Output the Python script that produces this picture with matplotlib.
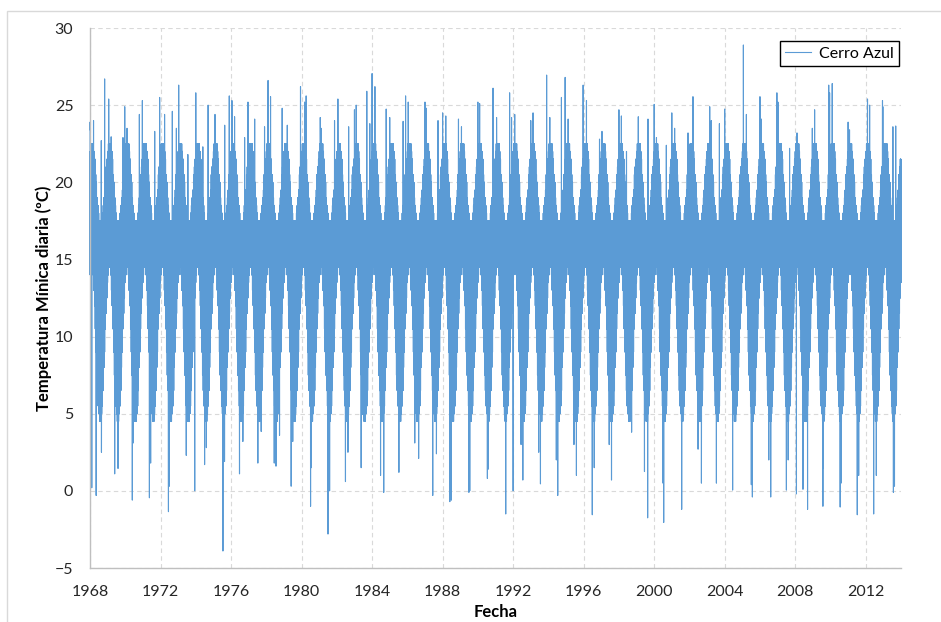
import matplotlib
matplotlib.use("Agg")
import matplotlib.pyplot as plt
from matplotlib.patches import Rectangle

# Cerro Azul - temperatura minima diaria 1968-2014
years = list(range(1968, 2014))

# typical daily band for each half month (Jan..Dec)
band_hi = [22.0, 22.5, 22.5, 22.5, 22.5, 22.0, 21.5, 20.5, 20.0, 19.0, 18.5, 18.0,
           17.5, 17.5, 17.5, 17.5, 17.5, 18.0, 18.5, 19.0, 19.5, 20.5, 21.0, 21.5]
band_lo = [14.0, 14.5, 14.5, 14.5, 14.0, 13.0, 12.0, 10.5, 9.0, 7.5, 6.5, 5.5,
           5.0, 4.5, 4.5, 5.0, 5.5, 6.5, 8.0, 9.0, 10.5, 11.5, 12.5, 13.5]

# highest spikes (decimal year, degC)
peak_t = [1968.00, 1968.20, 1968.83, 1969.06, 1969.97, 1970.80, 1970.97, 1971.95, 1972.23,
          1973.03, 1974.00, 1974.70, 1975.09, 1975.90, 1976.05, 1976.96, 1978.10, 1978.90,
          1979.94, 1980.26, 1981.06, 1982.06, 1983.10, 1983.70, 1984.00, 1984.80, 1985.90,
          1987.00, 1988.00, 1988.90, 1990.00, 1990.86, 1991.80, 1992.09, 1993.00, 1993.90,
          1994.95, 1995.97, 1997.04, 1998.00, 1999.10, 2000.00, 2001.00, 2002.20, 2003.15,
          2004.00, 2005.06, 2006.00, 2006.96, 2008.10, 2009.10, 2009.90, 2010.10, 2011.00,
          2012.10, 2012.95, 2013.70]
peak_v = [23.9, 24.0, 26.7, 25.4, 24.9, 24.4, 25.3, 25.5, 24.4,
          26.3, 25.8, 25.0, 24.4, 25.6, 25.3, 25.2, 26.6, 24.8,
          26.2, 25.6, 24.2, 25.4, 25.0, 25.9, 27.05, 24.75, 25.6,
          25.2, 24.5, 24.1, 25.2, 26.1, 25.8, 24.4, 24.0, 26.95,
          26.8, 26.3, 23.3, 24.7, 24.25, 25.05, 24.5, 25.55, 24.9,
          24.75, 28.9, 25.55, 25.8, 23.2, 24.7, 26.3, 26.4, 23.9,
          25.4, 25.3, 23.65]

# smaller high spikes
peak2_t = [1968.64, 1969.20, 1969.87, 1970.10, 1971.67, 1972.67, 1972.90, 1973.55, 1974.40,
           1975.64, 1976.20, 1976.77, 1977.34, 1977.90, 1978.24, 1979.19, 1980.17, 1981.11,
           1981.87, 1982.67, 1983.00, 1983.87, 1984.16, 1985.00, 1985.76, 1986.05, 1987.08,
           1987.74, 1988.18, 1989.07, 1990.10, 1991.06, 1991.91, 1993.13, 1994.08, 1994.74,
           1995.12, 1996.16, 1996.90, 1998.14, 1998.43, 1999.65, 2000.13, 2000.69, 2001.16,
           2001.92, 2003.24, 2003.70, 2005.23, 2006.08, 2007.02, 2007.68, 2008.97, 2009.95,
           2011.08, 2012.22, 2012.97, 2013.54]
peak2_v = [22.7, 22.95, 22.9, 23.5, 23.3, 24.6, 23.5, 21.8, 22.3,
           23.7, 24.25, 22.9, 24.1, 23.6, 25.55, 23.7, 25.2, 23.5,
           24.0, 23.6, 24.7, 23.8, 26.2, 24.2, 23.95, 25.2, 24.8,
           24.0, 24.3, 23.6, 25.1, 24.2, 24.2, 24.5, 24.2, 25.5,
           24.1, 25.3, 22.8, 24.3, 22.0, 24.1, 22.9, 22.4, 23.5,
           23.2, 24.0, 23.8, 24.4, 24.1, 25.2, 22.2, 23.5, 25.8,
           23.4, 25.0, 24.9, 23.6]

# lowest spikes (decimal year, degC)
low_t = [1968.10, 1968.35, 1968.65, 1969.40, 1970.40, 1970.45, 1971.37, 1972.45, 1972.50,
         1973.46, 1973.94, 1974.50, 1975.54, 1976.48, 1977.52, 1978.45, 1978.55, 1979.41,
         1980.51, 1981.50, 1982.49, 1983.38, 1984.66, 1985.52, 1986.64, 1987.44, 1988.41,
         1989.49, 1990.54, 1991.58, 1992.00, 1992.55, 1993.55, 1994.53, 1995.59, 1996.49,
         1997.58, 1998.72, 1999.45, 1999.63, 2000.54, 2001.56, 2002.68, 2003.53, 2004.45,
         2005.57, 2006.61, 2007.50, 2008.07, 2008.70, 2009.57, 2010.55, 2011.52, 2012.45,
         2013.57]
low_v = [0.2, -0.3, 2.5, 1.1, -0.6, 3.1, -0.45, -1.35, 0.3,
         2.3, 0.0, 1.7, -3.9, 1.1, 1.8, 1.8, 1.6, 0.3,
         -1.0, -2.8, 0.6, 1.5, -0.1, 1.2, 2.1, -0.3, -0.7,
         -0.1, 0.8, -1.5, 0.0, 0.7, 0.45, -0.3, 1.0, -1.55,
         0.7, 3.8, 1.25, -1.75, -2.05, -1.2, 0.5, 0.5, 0.05,
         -0.4, -0.4, 0.05, -0.2, -1.2, -1.0, -1.05, -1.55, -1.5,
         -0.1]

# smaller low spikes
low2_t = [1969.59, 1971.44, 1971.67, 1974.60, 1975.63, 1976.67, 1977.71, 1978.75, 1979.50,
          1980.55, 1981.59, 1982.63, 1983.47, 1984.48, 1986.42, 1987.65, 1988.50, 1989.54,
          1990.58, 1992.45, 1993.45, 1994.45, 1995.45, 1996.60, 1997.45, 1998.55, 2000.50,
          2002.49, 2003.53, 2005.51, 2006.50, 2007.60, 2008.44, 2009.60, 2010.60, 2011.60,
          2012.60, 2013.63]
low2_v = [1.45, 1.8, 5.2, 2.8, 1.9, 3.2, 3.85, 3.6, 3.2,
          1.5, 0.0, 2.5, 4.95, 1.0, 3.1, 2.4, -0.6, 0.0,
          1.4, 3.0, 2.5, 2.0, 3.0, 1.5, 3.0, 5.0, 0.5,
          2.7, 1.1, 0.4, 2.0, 2.0, 0.1, 1.5, 0.5, 1.0,
          1.0, 0.3]

# first and last values of the record
ends_t = [1968.0, 2014.02]
ends_v = [23.4, 21.3]

pts = []
for y in years:
    for k in range(192):
        h = k // 8
        if k % 2 == 0:
            pts.append((y + (k + 0.5) / 192, band_hi[h]))
        else:
            pts.append((y + (k + 0.5) / 192, band_lo[h]))
pts += list(zip(peak_t, peak_v)) + list(zip(peak2_t, peak2_v))
pts += list(zip(low_t, low_v)) + list(zip(low2_t, low2_v))
pts += list(zip(ends_t, ends_v))
pts.sort()
t = [p[0] for p in pts]
v = [p[1] for p in pts]

plt.rcParams['font.family'] = ['Lato', 'DejaVu Sans']

fig = plt.figure(figsize=(9.41, 6.22), dpi=100)
ax = fig.add_axes([90 / 941, 1 - 568 / 622, 811 / 941, 540 / 622])

# light frame around the whole chart
fig.patches.append(Rectangle((7 / 941, -0.1), 1.2, 1 - 11 / 622 + 0.1,
                             transform=fig.transFigure, fill=False,
                             edgecolor='#D9D9D9', lw=1))

ax.plot(t, v, color='#5B9BD5', lw=0.8, label='Cerro Azul', clip_on=False)

ax.set_xlim(1968, 2014)
ax.set_ylim(-5, 30)
ax.set_xticks(range(1968, 2014, 4))
ax.set_yticks(range(-5, 31, 5))
ax.tick_params(length=0, labelsize=11.5, colors='#262626', pad=12)
ax.grid(True, color='#D9D9D9', lw=0.8, ls=(0, (4, 3)))
ax.set_axisbelow(True)
for s in ['top', 'right']:
    ax.spines[s].set_visible(False)
for s in ['left', 'bottom']:
    ax.spines[s].set_color('#BFBFBF')
    ax.spines[s].set_linewidth(1)

ax.set_xlabel('Fecha', fontsize=12, fontweight='bold', labelpad=3.5)
ax.set_ylabel('Temperatura Mínica diaria (ºC)', fontsize=12, fontweight='bold', labelpad=2)

leg = ax.legend(loc='upper right', bbox_to_anchor=(0.9975, 0.976), fontsize=11.5,
                fancybox=False, edgecolor='black', framealpha=1, handlelength=1.6,
                handletextpad=0.5, borderpad=0.35, borderaxespad=0)
leg.get_frame().set_linewidth(1)

fig.savefig('out.png', dpi=100)
